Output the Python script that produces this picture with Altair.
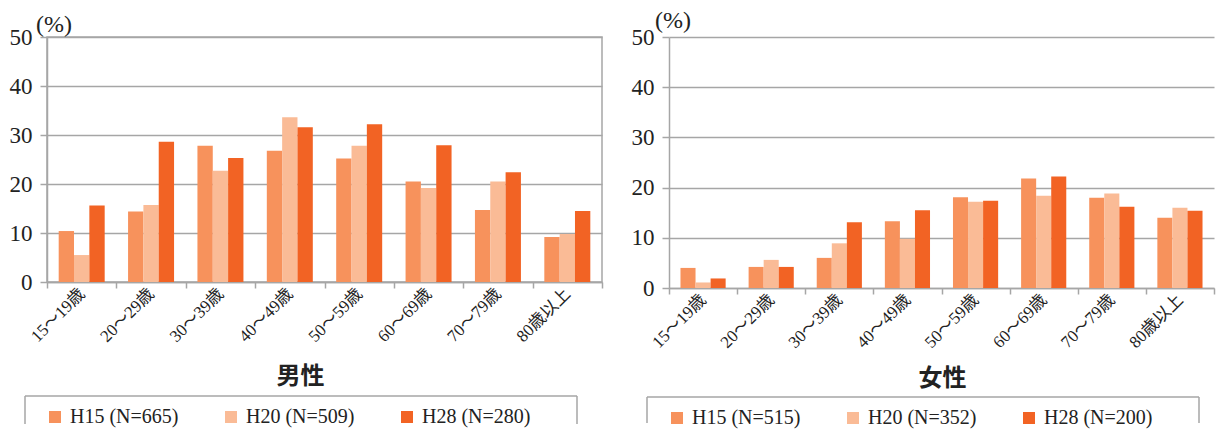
import altair as alt
import pandas as pd

ages = ["15～19歳", "20～29歳", "30～39歳", "40～49歳",
        "50～59歳", "60～69歳", "70～79歳", "80歳以上"]

male_series = ["H15 (N=665)", "H20 (N=509)", "H28 (N=280)"]
male_h15 = [10.4, 14.4, 27.8, 26.8, 25.2, 20.5, 14.7, 9.2]
male_h20 = [5.5, 15.7, 22.7, 33.6, 27.8, 19.2, 20.5, 9.8]
male_h28 = [15.6, 28.6, 25.3, 31.6, 32.2, 27.9, 22.4, 14.5]

female_series = ["H15 (N=515)", "H20 (N=352)", "H28 (N=200)"]
female_h15 = [4.0, 4.2, 6.0, 13.3, 18.1, 21.8, 18.0, 14.0]
female_h20 = [1.1, 5.6, 8.9, 9.8, 17.2, 18.4, 18.8, 16.0]
female_h28 = [1.9, 4.2, 13.1, 15.5, 17.4, 22.2, 16.2, 15.4]

y_ticks = [0, 10, 20, 30, 40, 50]
colors = ["#F7925C", "#FABB96", "#F26324"]

FONT = "Liberation Serif, Noto Sans CJK JP"
GRAY = "#a6a6a6"
INK = "#222222"
BAR_FRAC = 0.221  # share of a category taken by one bar


def make_panel(values, series, title, width, height, title_x, title_y,
               pct_x, pct_y, legend_x, legend_y, box_top, box_bottom, stroke):
    one = pd.DataFrame({"k": [0]})
    step = width / len(ages)

    x_enc = alt.X("age:N", sort=ages,
                  scale=alt.Scale(type="band", paddingInner=0, paddingOuter=0),
                  axis=alt.Axis(title=title, titleFont=FONT, titleFontSize=24,
                                titleFontWeight="bold", titleColor=INK,
                                titleX=title_x, titleY=title_y,
                                titleBaseline="middle", titleAlign="center",
                                labelAngle=315, labelAlign="right",
                                labelBaseline="middle", labelFont=FONT,
                                labelFontSize=17, labelColor=INK,
                                labelPadding=3, labelLimit=300,
                                tickBand="extent", tickSize=6,
                                tickColor=GRAY, tickWidth=1.5,
                                domainColor=GRAY, domainWidth=1.5,
                                grid=False))
    y_enc = alt.Y("value:Q", scale=alt.Scale(domain=[0, 50]),
                  axis=alt.Axis(title=None, values=y_ticks, grid=True,
                                gridColor=GRAY, gridWidth=1.5,
                                domainColor=GRAY, domainWidth=1.5,
                                tickColor=GRAY, tickSize=7, tickWidth=1.5,
                                labelFont=FONT, labelFontSize=23,
                                labelColor=INK, labelPadding=8))
    c_enc = alt.Color("series:N", sort=series,
                      scale=alt.Scale(domain=series, range=colors),
                      legend=alt.Legend(title=None, orient="none",
                                        legendX=legend_x, legendY=legend_y,
                                        direction="horizontal", columns=3,
                                        columnPadding=42,
                                        symbolType="square", symbolSize=144,
                                        symbolStrokeWidth=0,
                                        labelFont=FONT, labelFontSize=20,
                                        labelColor=INK, labelOffset=5,
                                        padding=0, labelLimit=300))

    layers = []
    for i, (s, vals) in enumerate(zip(series, values)):
        df = pd.DataFrame({"age": ages, "series": s, "value": vals})
        layers.append(
            alt.Chart(df).mark_bar(
                width=alt.RelativeBandSize(BAR_FRAC),
                xOffset=(i - 1) * BAR_FRAC * step,
            ).encode(x=x_enc, y=y_enc, color=c_enc)
        )

    pct = alt.Chart(one).mark_text(
        text="(%)", font=FONT, fontSize=24, color=INK,
        align="center", baseline="alphabetic"
    ).encode(x=alt.value(pct_x), y=alt.value(pct_y))

    rule = dict(color=GRAY, strokeWidth=1.5)
    box_t = alt.Chart(one).mark_rule(**rule).encode(
        x=alt.value(-22), x2=alt.value(530), y=alt.value(box_top))
    box_l = alt.Chart(one).mark_rule(**rule).encode(
        x=alt.value(-22), y=alt.value(box_top), y2=alt.value(box_bottom))
    box_r = alt.Chart(one).mark_rule(**rule).encode(
        x=alt.value(530), y=alt.value(box_top), y2=alt.value(box_bottom))

    return alt.layer(*layers, pct, box_t, box_l, box_r).properties(
        width=width, height=height,
        view=alt.ViewBackground(stroke=stroke, strokeWidth=1.5))


left = make_panel([male_h15, male_h20, male_h28], male_series, "男性",
                  555, 245, 253, 94, 7, -5, -2, 370, 359, 387, GRAY)
right = make_panel([female_h15, female_h20, female_h28], female_series, "女性",
                   545, 251, 273, 90, 4, -9, -2, 371, 360, 386,
                   "transparent")

chart = alt.hconcat(left, right, spacing=67, bounds="flush").resolve_scale(
    x="independent", y="independent", color="independent"
).resolve_legend(color="independent").properties(
    padding={"left": 0, "top": 0, "right": 0, "bottom": 0}
).configure_view(stroke=GRAY, strokeWidth=1.5)

chart.save("out.html", embed_options={"renderer": "svg", "actions": False})
